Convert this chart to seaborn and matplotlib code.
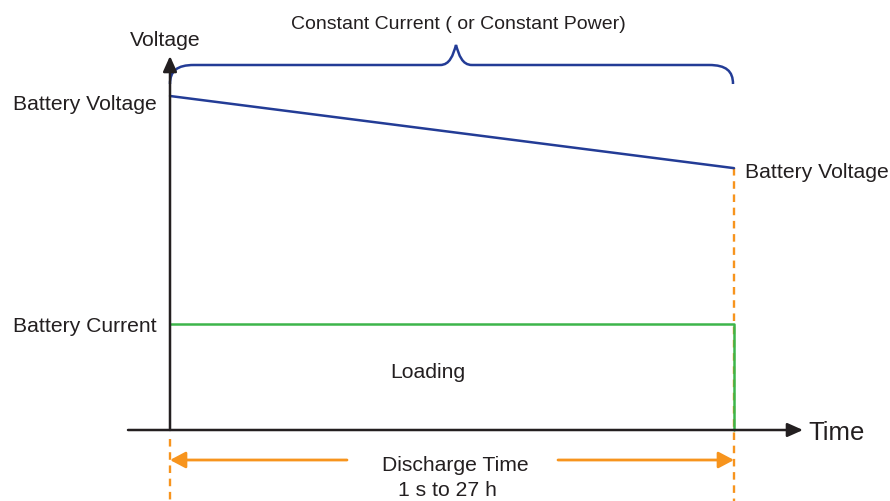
import numpy as np
import pandas as pd
import matplotlib
matplotlib.use("Agg")
import matplotlib.pyplot as plt
import seaborn as sns
from matplotlib.path import Path
from matplotlib.patches import PathPatch, FancyArrowPatch

# ---- data (normalised time 0..1, relative voltage/current levels) ----
time = [0.0, 1.0]
voltage = [1.0, 0.784]
current_time = [0.0, 1.0, 1.0]
current = [0.317, 0.317, 0.0]

title_text = "Constant Current ( or Constant Power)"
y_label = "Voltage"
x_label = "Time"
v_label = "Battery Voltage"
i_label = "Battery Current"
load_label = "Loading"
dis_label = ["Discharge Time", "1 s to 27 h"]

NAVY = "#233C96"
GREEN = "#3DB54A"
ORANGE = "#F7941D"
BLACK = "#231F20"

sns.set_theme(style="white")
plt.rcParams["font.family"] = ["Liberation Sans", "DejaVu Sans"]

fig = plt.figure(figsize=(8.9, 5.02), dpi=100)
ax = fig.add_axes([0, 0, 1, 1])


def X(px):
    return (px - 170) / 564


def Y(py):
    return (431 - py) / 334


# orange dashed guide lines
dash = (0, (3.2, 2.4))
ax.plot([time[0], time[0]], [Y(440), Y(502)], color=ORANGE, lw=1.7, ls=dash, zorder=1)
ax.plot([time[-1], time[-1]], [voltage[-1], Y(502)], color=ORANGE, lw=1.7, ls=dash, zorder=1)

# data lines
df_v = pd.DataFrame({"t": time, "v": voltage})
df_i = pd.DataFrame({"t": current_time, "i": current})
sns.lineplot(data=df_v, x="t", y="v", color=NAVY, lw=1.8, ax=ax, zorder=3)
sns.lineplot(data=df_i, x="t", y="i", color=GREEN, lw=1.8, ax=ax, sort=False,
             estimator=None, zorder=3)
ax.axis("off")
ax.set_xlim(-170 / 564, 720 / 564)
ax.set_ylim((431 - 502) / 334, 431 / 334)

# axes arrows
ax.add_patch(FancyArrowPatch((X(170), Y(431)), (X(170), Y(57)),
                             arrowstyle="-|>,head_length=0.85,head_width=0.38",
                             mutation_scale=11, color=BLACK, lw=1.8,
                             shrinkA=0, shrinkB=0, zorder=4))
ax.add_patch(FancyArrowPatch((X(128), Y(431)), (X(803), Y(431)),
                             arrowstyle="-|>,head_length=0.85,head_width=0.38",
                             mutation_scale=11, color=BLACK, lw=1.8,
                             shrinkA=0, shrinkB=0, zorder=4))

# discharge-time arrows
for a, b in [((X(347), Y(461)), (X(170), Y(461))), ((X(558), Y(461)), (X(734), Y(461)))]:
    ax.add_patch(FancyArrowPatch(a, b, arrowstyle="-|>,head_length=0.85,head_width=0.45",
                                 mutation_scale=11, color=ORANGE, lw=2.0,
                                 shrinkA=0, shrinkB=0, zorder=4))

# brace
x0, x1, xm = 170, 733, 456
yb, yh, yp = 85, 66, 46
verts = [
    (x0, yb), (x0, 72), (x0 + 7, yh), (x0 + 24, yh),
    (xm - 16, yh),
    (xm - 6, yh), (xm - 3, 56), (xm, yp),
    (xm + 3, 56), (xm + 6, yh), (xm + 16, yh),
    (x1 - 24, yh),
    (x1 - 7, yh), (x1, 72), (x1, yb),
]
codes = [Path.MOVETO, Path.CURVE4, Path.CURVE4, Path.CURVE4,
         Path.LINETO,
         Path.CURVE4, Path.CURVE4, Path.CURVE4,
         Path.CURVE4, Path.CURVE4, Path.CURVE4,
         Path.LINETO,
         Path.CURVE4, Path.CURVE4, Path.CURVE4]
verts = [(X(a), Y(b)) for a, b in verts]
ax.add_patch(PathPatch(Path(verts, codes), fill=False, edgecolor=NAVY, lw=1.8, zorder=3))

# texts
fs = 15.2
tc = BLACK
d = 2
ax.text(X(458), Y(22 + d), title_text, ha="center", va="center", fontsize=14, color=tc)
ax.text(X(165), Y(38 + d), y_label, ha="center", va="center", fontsize=fs, color=tc)
ax.text(X(157), Y(102 + d), v_label, ha="right", va="center", fontsize=fs, color=tc)
ax.text(X(745), Y(171 + d), v_label, ha="left", va="center", fontsize=fs, color=tc)
ax.text(X(157), Y(325 + d), i_label, ha="right", va="center", fontsize=fs, color=tc)
ax.text(X(428), Y(370 + d), load_label, ha="center", va="center", fontsize=fs, color=tc)
ax.text(X(808), Y(431 + d), x_label, ha="left", va="center", fontsize=18.5, color=tc)
ax.text(X(455), Y(464 + d), dis_label[0], ha="center", va="center", fontsize=fs, color=tc)
ax.text(X(447), Y(489 + d), dis_label[1], ha="center", va="center", fontsize=fs, color=tc)

fig.savefig("out.png", dpi=100, facecolor="white")
